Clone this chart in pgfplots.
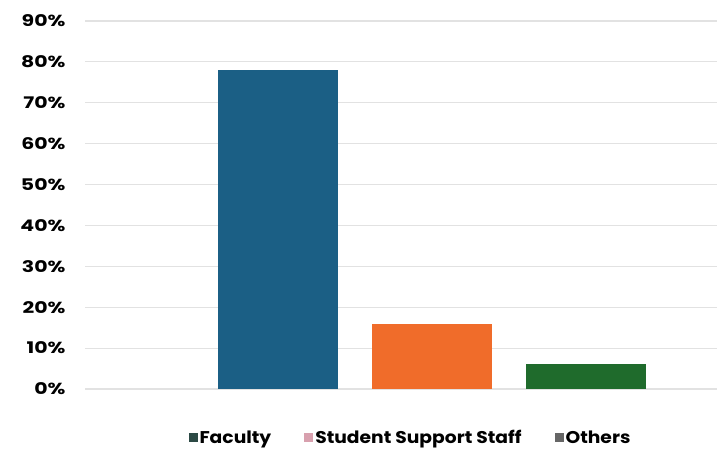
\documentclass[border=0pt]{standalone}
\usepackage{pgfplots}
\pgfplotsset{compat=1.18}
\usepackage{fontspec}
\setmainfont{Poppins}
\newfontfamily\tickfont[FakeStretch=1.28]{Poppins}
\newfontfamily\legfont[FakeStretch=1.1]{Poppins}
\definecolor{cBlue}{HTML}{1B5F85}
\definecolor{cOrange}{HTML}{F06C2A}
\definecolor{cGreen}{HTML}{1F6B2C}
\definecolor{lFac}{HTML}{2C4A45}
\definecolor{lSSS}{HTML}{D8A0AE}
\definecolor{lOth}{HTML}{666666}
\definecolor{cGrid}{HTML}{E2E2E2}
\begin{document}
\begin{tikzpicture}[x=1pt,y=1pt]
\useasboundingbox (0,0) rectangle (717,461);
\begin{axis}[
  at={(85pt,72pt)}, anchor=south west,
  scale only axis,
  width=632pt, height=368pt,
  xmin=-1.25, xmax=2.85,
  ymin=0, ymax=90,
  ybar, bar width=0.78,
  axis line style={draw=none},
  xtick=\empty,
  ytick={0,10,...,90},
  yticklabel={\pgfmathprintnumber{\tick}\%},
  yticklabel style={font=\tickfont\bfseries\fontsize{16}{16}\selectfont, xshift=-16pt},
  /pgf/number format/assume math mode=true,
  major tick length=0pt,
  ymajorgrids,
  grid style={draw=cGrid, line width=1.2pt},
  legend style={draw=none, at={(0.515,-0.133)}, anchor=center,
    font=\legfont\bfseries\fontsize{17}{17}\selectfont, legend columns=-1,
    /tikz/every even column/.append style={column sep=31pt}},
]
\addplot[fill=cBlue, draw=none, bar shift=0pt,
  legend image code/.code={\fill[lFac] (0pt,-4.5pt) rectangle (9pt,4.5pt);}]
  coordinates {(0,78)};
\addlegendentry{Faculty}
\addplot[fill=cOrange, draw=none, bar shift=0pt,
  legend image code/.code={\fill[lSSS] (0pt,-4.5pt) rectangle (9pt,4.5pt);}]
  coordinates {(1,16)};
\addlegendentry{Student Support Staff}
\addplot[fill=cGreen, draw=none, bar shift=0pt,
  legend image code/.code={\fill[lOth] (0pt,-4.5pt) rectangle (9pt,4.5pt);}]
  coordinates {(2,6)};
\addlegendentry{Others}
\end{axis}
\end{tikzpicture}
\end{document}
